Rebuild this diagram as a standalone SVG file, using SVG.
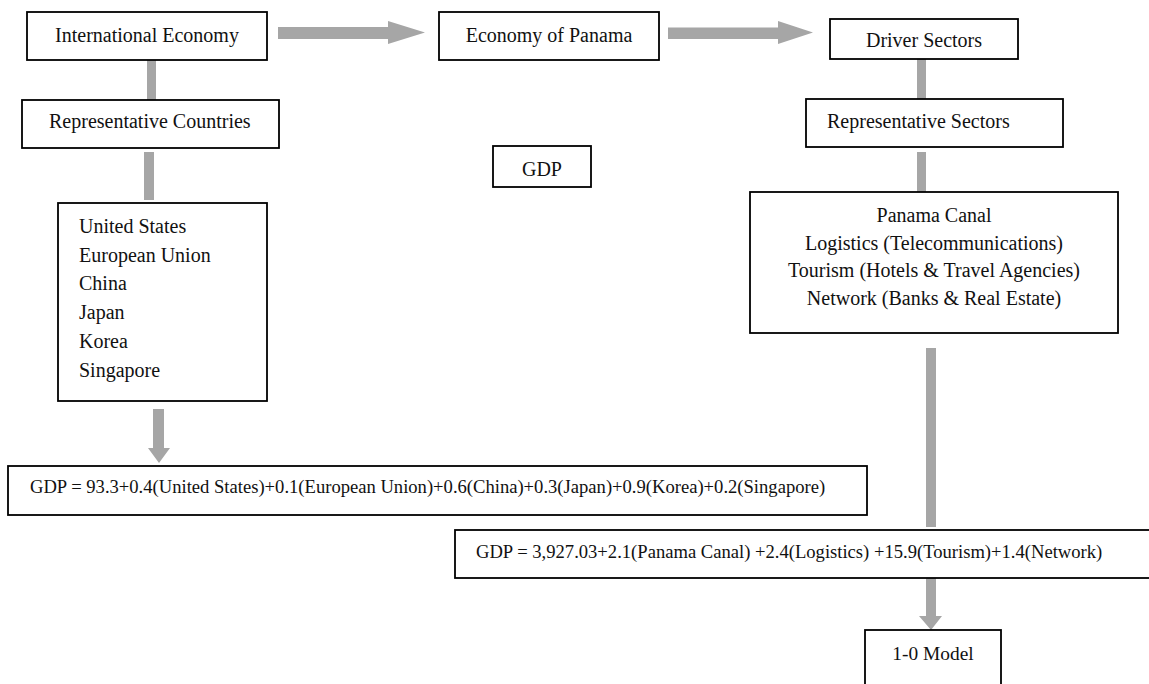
<svg xmlns="http://www.w3.org/2000/svg" width="1149" height="684" viewBox="0 0 1149 684">
  <style>
    .box { fill: #ffffff; stroke: #000000; stroke-width: 1.8; }
    .t { font-family: "Liberation Serif", "Times New Roman", serif; font-size: 20px; fill: #111111; }
    .eq { font-family: "Liberation Serif", "Times New Roman", serif; font-size: 18.6px; fill: #111111; }
    .mid { text-anchor: middle; }
    .conn { fill: #a6a6a6; stroke: none; }
  </style>
  <rect width="1149" height="684" fill="#ffffff"/>

  <g id="connectors">
    <!-- horizontal arrows -->
    <path class="conn" d="M278,27 H388 V21 L425,32.5 L388,44 V39 H278 Z"/>
    <path class="conn" d="M668,27.5 H778 V21 L813,32.5 L778,44 V39 H668 Z"/>
    <!-- plain vertical bars -->
    <rect class="conn" x="147" y="60" width="9" height="40"/>
    <rect class="conn" x="144" y="152" width="10" height="48"/>
    <rect class="conn" x="917" y="59" width="9" height="40"/>
    <rect class="conn" x="917" y="152" width="9" height="40"/>
    <rect class="conn" x="926" y="348" width="10" height="179"/>
    <!-- downward arrows -->
    <path class="conn" d="M153,409 H164 V448 H170 L159,463 L148,448 H153 Z"/>
    <path class="conn" d="M926,578 H936 V616 H942 L931,630 L919,616 H926 Z"/>
  </g>

  <g id="international-economy">
    <rect class="box" x="27" y="12" width="240" height="48"/>
    <text class="t mid" x="147" y="42">International Economy</text>
  </g>

  <g id="economy-of-panama">
    <rect class="box" x="439" y="12" width="220" height="48"/>
    <text class="t mid" x="549" y="42">Economy of Panama</text>
  </g>

  <g id="driver-sectors">
    <rect class="box" x="830" y="19" width="188" height="40"/>
    <text class="t mid" x="924" y="47">Driver Sectors</text>
  </g>

  <g id="representative-countries">
    <rect class="box" x="22" y="100" width="257" height="48"/>
    <text class="t" x="49" y="128">Representative Countries</text>
  </g>

  <g id="representative-sectors">
    <rect class="box" x="806" y="99" width="257" height="48"/>
    <text class="t" x="827" y="128">Representative Sectors</text>
  </g>

  <g id="gdp">
    <rect class="box" x="493" y="146" width="98" height="41"/>
    <text class="t mid" x="542" y="176">GDP</text>
  </g>

  <g id="countries">
    <rect class="box" x="58" y="203" width="209" height="198"/>
    <text class="t" x="79" y="233">United States</text>
    <text class="t" x="79" y="262">European Union</text>
    <text class="t" x="79" y="290">China</text>
    <text class="t" x="79" y="319">Japan</text>
    <text class="t" x="79" y="348">Korea</text>
    <text class="t" x="79" y="377">Singapore</text>
  </g>

  <g id="sectors">
    <rect class="box" x="750" y="192" width="368" height="141"/>
    <text class="t mid" x="934" y="222">Panama Canal</text>
    <text class="t mid" x="934" y="249.5">Logistics (Telecommunications)</text>
    <text class="t mid" x="934" y="277">Tourism (Hotels &amp; Travel Agencies)</text>
    <text class="t mid" x="934" y="304.5">Network (Banks &amp; Real Estate)</text>
  </g>

  <g id="gdp-international">
    <rect class="box" x="8" y="466" width="859" height="49"/>
    <text class="eq" x="30" y="493">GDP = 93.3+0.4(United States)+0.1(European Union)+0.6(China)+0.3(Japan)+0.9(Korea)+0.2(Singapore)</text>
  </g>

  <g id="gdp-sectors">
    <rect class="box" x="455" y="530" width="700" height="48"/>
    <text class="eq" x="476" y="558">GDP = 3,927.03+2.1(Panama Canal) +2.4(Logistics) +15.9(Tourism)+1.4(Network)</text>
  </g>

  <g id="io-model">
    <rect class="box" x="865" y="630" width="136" height="64"/>
    <text class="t mid" x="933" y="660" style="font-size:19.4px">1-0 Model</text>
  </g>
</svg>
